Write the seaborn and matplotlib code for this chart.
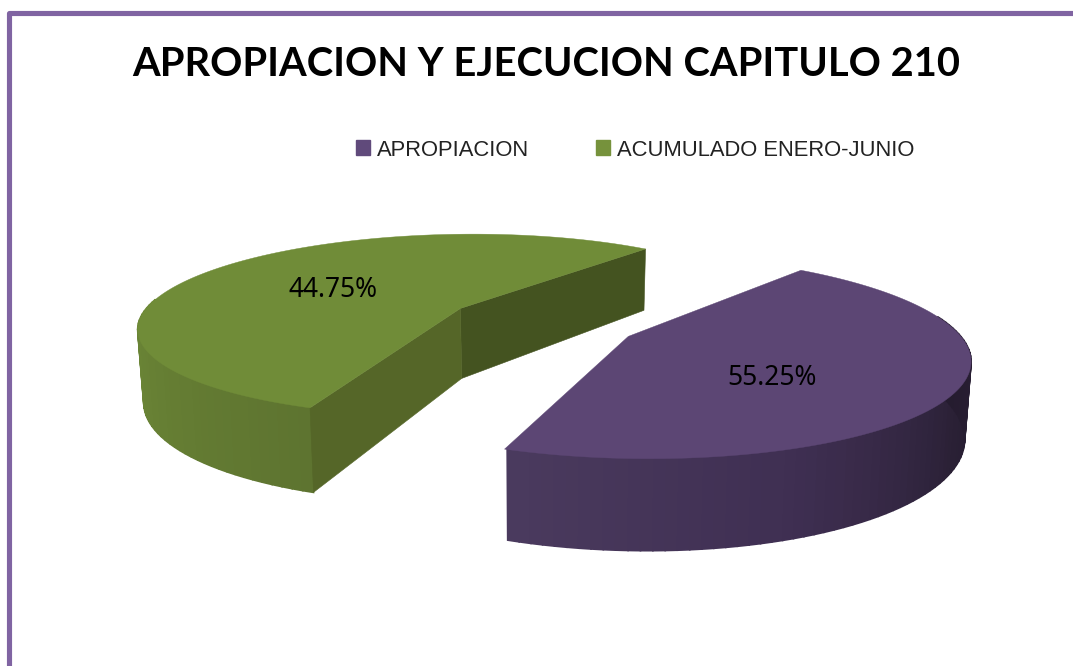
import numpy as np
import matplotlib
matplotlib.use('Agg')
import matplotlib.pyplot as plt
import seaborn as sns
from matplotlib.patches import Patch

# datos
titulo = 'APROPIACION Y EJECUCION CAPITULO 210'
categorias = ['APROPIACION', 'ACUMULADO ENERO-JUNIO']
etiquetas_pct = [55.25, 44.75]
# the reference prints 55.25 on the purple slice but draws it as the smaller one,
# so wedge size and printed label are kept apart here
tamano_pct = [44.75, 55.25]

sns.set_theme(style='white')

# proyeccion del pastel 3D (ground plane -> pixels)
cx, cy = 542, 322
A, B, k = 323, 93, 0.189
D = 72
expl = 0.30
giro = 50.5  # angle where the purple slice starts, going clockwise


def proyecta(u, v, z=0.0):
    w = 1 / (1 + k * v)
    x = cx + A * u * w * (1 - 0.015 * z)
    y = cy - B * v * w + D * z * w
    return x, y


def punto(t, apex):
    t = np.radians(t)
    return apex[0] + np.cos(t), apex[1] + np.sin(t)


def pared(ax, t1, t2, apex, colores):
    ts = np.linspace(t1, t2, len(colores) + 1)
    for i, c in enumerate(colores):
        tt = np.linspace(ts[i], ts[i + 1], 4)
        u, v = punto(tt, apex)
        x0, y0 = proyecta(u, v, 0)
        x1, y1 = proyecta(u, v, 1)
        ax.fill(np.r_[x0, x1[::-1]], np.r_[y0, y1[::-1]], color=c, lw=1.2)


def cara(ax, p, q, color):
    # flat cut wall between two ground points
    xs0, ys0 = proyecta(np.array([p[0], q[0]]), np.array([p[1], q[1]]), 0)
    xs1, ys1 = proyecta(np.array([p[0], q[0]]), np.array([p[1], q[1]]), 1)
    ax.fill(np.r_[xs0, xs1[::-1]], np.r_[ys0, ys1[::-1]], color=color, lw=0.4)


fig = plt.figure(figsize=(10.73, 6.66), dpi=100)
ax = fig.add_axes([0, 0, 1, 1])
ax.set_xlim(0, 1073)
ax.set_ylim(666, 0)
ax.axis('off')

# marco
ax.plot([8.5, 8.5, 1073], [666, 12.5, 12.5], color='#8064A2', lw=3.7, solid_joinstyle='round', solid_capstyle='butt')

# angulos a partir de los datos
barrido_morado = tamano_pct[0] / sum(tamano_pct) * 360
barrido_verde = tamano_pct[1] / sum(tamano_pct) * 360
ini_morado = giro - barrido_morado
medio_morado = giro - barrido_morado / 2
medio_verde = giro + barrido_verde / 2
fin_verde = giro + barrido_verde

apex_m = (expl * np.cos(np.radians(medio_morado)), expl * np.sin(np.radians(medio_morado)))
apex_v = (expl * np.cos(np.radians(medio_verde)), expl * np.sin(np.radians(medio_verde)))

# porcion verde, detras
pared(ax, 174, fin_verde, apex_v, sns.blend_palette(['#6f8b38', '#5e7430'], 40))
cara(ax, punto(giro, apex_v), apex_v, '#445320')
cara(ax, apex_v, punto(fin_verde, apex_v), '#556628')
tt = np.linspace(giro, fin_verde, 200)
u, v = punto(tt, apex_v)
x, y = proyecta(np.r_[apex_v[0], u], np.r_[apex_v[1], v])
ax.fill(x, y, color='#708C38', lw=0.3)

# porcion morada
pared(ax, ini_morado + 0.4, 12, apex_m, sns.blend_palette(['#4a3a5e', '#3f2f52', '#2a2035', '#241b2e'], 70))
tt = np.linspace(ini_morado, giro, 200)
u, v = punto(tt, apex_m)
x, y = proyecta(np.r_[apex_m[0], u], np.r_[apex_m[1], v])
ax.fill(x, y, color='#5C4674', lw=0.3)

# textos
ax.text(546, 65, titulo, ha='center', va='center', fontsize=28.7, fontweight='bold', family='Lato', color='black')
ax.text(772, 378, '%.2f%%' % etiquetas_pct[0], ha='center', va='center', fontsize=19, family='Noto Sans', color='black')
ax.text(333, 290, '%.2f%%' % etiquetas_pct[1], ha='center', va='center', fontsize=19, family='Noto Sans', color='black')

handles = [Patch(color='#604A7B'), Patch(color='#76923C')]
ax.legend(handles, categorias, ncol=2, frameon=False, loc='center left',
          bbox_to_anchor=(356, 150), bbox_transform=ax.transData,
          prop={'family': 'Liberation Sans', 'size': 15.8},
          handlelength=0.65, handleheight=0.65, handletextpad=0.3, columnspacing=3.05,
          labelcolor='#222222', borderpad=0, borderaxespad=0)

plt.savefig('out.png', dpi=100)
